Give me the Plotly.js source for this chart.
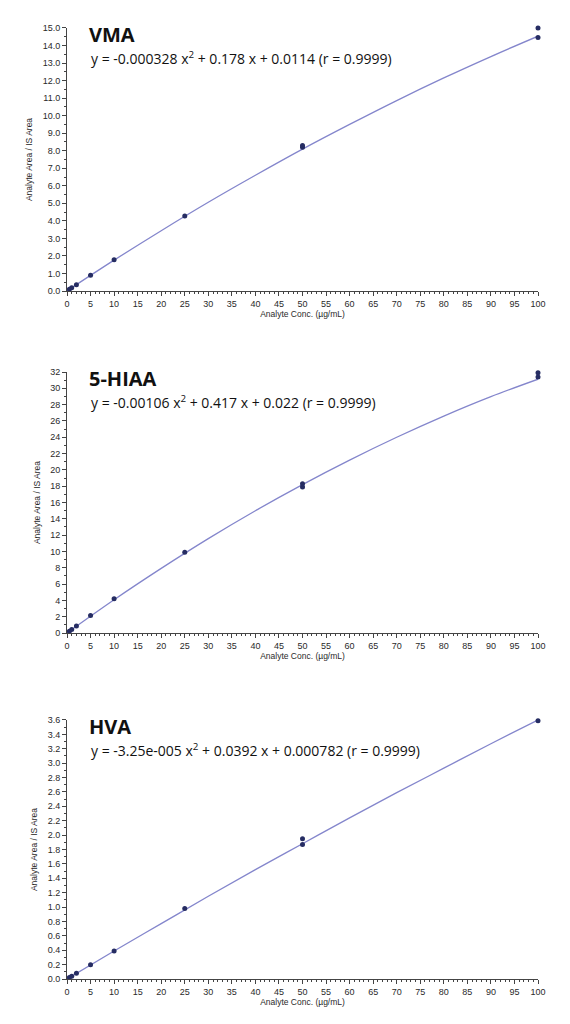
<!DOCTYPE html>
<html>
<head>
<meta charset="utf-8">
<script src="https://cdn.plot.ly/plotly-3.0.1.min.js"></script>
<style>
  html, body { margin: 0; padding: 0; background: #fff; }
  #chart { width: 570px; height: 1024px; }
</style>
</head>
<body>
<div id="chart"></div>
<script>
// calibration standards (conc. in ug/mL) and measured area ratios
var vmaConc = [0.5, 1, 2, 5, 10, 25, 50, 50, 100, 100];
var vmaRatio = [0.1, 0.19, 0.36, 0.9, 1.78, 4.28, 8.2, 8.3, 14.45, 15.0];

var hiaaConc = [0.5, 1, 2, 5, 10, 25, 50, 50, 100, 100];
var hiaaRatio = [0.21, 0.44, 0.85, 2.15, 4.2, 9.9, 17.9, 18.3, 31.4, 31.9];

var hvaConc = [0.5, 1, 2, 5, 10, 25, 50, 50, 100, 100];
var hvaRatio = [0.02, 0.04, 0.08, 0.2, 0.39, 0.98, 1.87, 1.95, 3.59, 3.61];

// fitted curves
var fitConc = [0, 10, 20, 30, 40, 50, 60, 70, 80, 90, 100];
var vmaFit = [0.01, 1.76, 3.44, 5.06, 6.6, 8.09, 9.5, 10.86, 12.15, 13.37, 14.53];
var hiaaFit = [0.02, 4.09, 7.93, 11.58, 15.0, 18.2, 21.2, 24.0, 26.6, 28.98, 31.12];
var hvaFit = [0.0, 0.39, 0.77, 1.15, 1.52, 1.88, 2.24, 2.59, 2.93, 3.27, 3.6];

var names = ['VMA', '5-HIAA', 'HVA'];
var equations = [
  'y = -0.000328 x<sup>2</sup> + 0.178 x + 0.0114 (r = 0.9999)',
  'y = -0.00106 x<sup>2</sup> + 0.417 x + 0.022 (r = 0.9999)',
  'y = -3.25e-005 x<sup>2</sup> + 0.0392 x + 0.000782 (r = 0.9999)'
];
var xTicks = [0, 5, 10, 15, 20, 25, 30, 35, 40, 45, 50, 55, 60, 65, 70, 75, 80, 85, 90, 95, 100];

var lineColor = '#8486cc';
var dotColor = '#262d63';
var axisColor = '#444';
var tickFont = {family: 'Liberation Sans, Arial, sans-serif', size: 9, color: '#2a2a2a'};
var titleFont = {family: 'Liberation Sans, Arial, sans-serif', size: 8.5, color: '#2a2a2a'};

var concs = [vmaConc, hiaaConc, hvaConc];
var ratios = [vmaRatio, hiaaRatio, hvaRatio];
var fits = [vmaFit, hiaaFit, hvaFit];

var plot_data = [];
for (let i = 0; i < 3; i++) {
  var ax = i == 0 ? '' : (i + 1).toString();
  plot_data.push({
    x: fitConc, y: fits[i],
    xaxis: 'x' + ax, yaxis: 'y' + ax,
    type: 'scatter', mode: 'lines',
    line: {color: lineColor, width: 1.3, shape: 'spline'},
    hoverinfo: 'skip'
  });
  plot_data.push({
    x: concs[i], y: ratios[i],
    xaxis: 'x' + ax, yaxis: 'y' + ax,
    type: 'scatter', mode: 'markers',
    cliponaxis: false,
    marker: {color: dotColor, size: 5}
  });
}

// subplot domains (paper coords, no margins top/bottom)
var domains = [[0.7158, 0.9727], [0.3818, 0.6367], [0.0439, 0.2969]];
var yRanges = [[0, 15], [0, 32], [0, 3.6]];
var yDticks = [1, 2, 0.2];
var yMinor = [0.5, 1, 0.1];
var yFormats = ['.1f', 'd', '.1f'];

function xaxis_for(i) {
  return {
    domain: [0, 1],
    anchor: i == 0 ? 'y' : 'y' + (i + 1),
    range: [0, 100],
    tickmode: 'array', tickvals: xTicks,
    ticks: 'outside', ticklen: 4, tickwidth: 1, tickcolor: axisColor,
    minor: {dtick: 1, ticks: 'outside', ticklen: 2, tickcolor: axisColor},
    showline: true, linecolor: axisColor, linewidth: 1,
    showgrid: false, zeroline: false, fixedrange: true,
    tickfont: tickFont,
    automargin: false,
    title: {text: 'Analyte Conc. (µg/mL)', font: titleFont, standoff: 3}
  };
}

function yaxis_for(i) {
  return {
    domain: domains[i],
    anchor: i == 0 ? 'x' : 'x' + (i + 1),
    range: yRanges[i],
    dtick: yDticks[i], tickformat: yFormats[i],
    ticks: 'outside', ticklen: 4, tickwidth: 1, tickcolor: axisColor,
    minor: {dtick: yMinor[i], ticks: 'outside', ticklen: 2, tickcolor: axisColor},
    showline: true, linecolor: axisColor, linewidth: 1,
    showgrid: false, zeroline: false, fixedrange: true,
    tickfont: tickFont,
    automargin: false,
    title: {text: 'Analyte Area / IS Area', font: titleFont, standoff: 8}
  };
}

var annotations = [];
for (let i = 0; i < 3; i++) {
  var xr = i == 0 ? 'x domain' : 'x' + (i + 1) + ' domain';
  var yr = i == 0 ? 'y domain' : 'y' + (i + 1) + ' domain';
  annotations.push({
    text: '<b>' + names[i] + '</b>',
    xref: xr, yref: yr, x: 0.042, y: 1.035,
    xanchor: 'left', yanchor: 'top', showarrow: false,
    font: {family: 'Open Sans, sans-serif', size: 20, color: '#111'}
  });
  annotations.push({
    text: equations[i],
    xref: xr, yref: yr, x: 0.046, y: 0.93,
    xanchor: 'left', yanchor: 'top', showarrow: false,
    font: {family: 'Open Sans, sans-serif', size: 14, color: '#111'}
  });
}

var layout = {
  width: 570, height: 1024,
  margin: {t: 0, b: 0, l: 67, r: 32},
  showlegend: false,
  paper_bgcolor: '#fff', plot_bgcolor: '#fff',
  xaxis: xaxis_for(0), yaxis: yaxis_for(0),
  xaxis2: xaxis_for(1), yaxis2: yaxis_for(1),
  xaxis3: xaxis_for(2), yaxis3: yaxis_for(2),
  annotations: annotations
};

Plotly.newPlot('chart', plot_data, layout, {displayModeBar: false, staticPlot: true});
</script>
</body>
</html>
